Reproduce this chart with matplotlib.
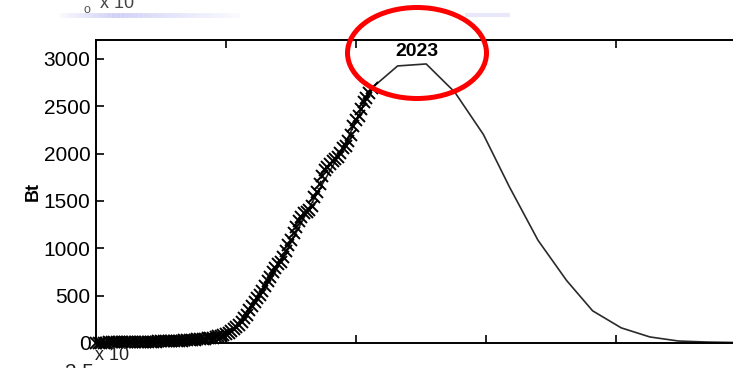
import matplotlib
matplotlib.use("Agg")
import matplotlib.pyplot as plt
from matplotlib.patches import Ellipse
from matplotlib.collections import LineCollection
import numpy as np

plt.rcParams['font.family'] = ['Liberation Sans Narrow', 'Liberation Sans', 'DejaVu Sans']

# Observed production, 1900-2006
obs_years = list(range(1900, 2007))
obs_values = [
    4, 4, 5, 5, 5, 6, 6, 6, 7, 7, 8, 8, 9, 9, 10, 10, 11, 12, 12, 13,
    13, 14, 15, 15, 16, 17, 18, 19, 20, 21, 22, 23, 25, 26, 28, 30, 31, 33, 35, 38,
    40, 43, 46, 50, 54, 58, 63, 70, 78, 86,
    95, 110, 125, 145, 170, 195, 225, 260, 300, 345,
    390, 430, 470, 510, 550, 600, 650, 700, 750, 795,
    830, 860, 910, 970, 1030, 1090, 1160, 1230, 1290, 1330,
    1370, 1380, 1400, 1450, 1540, 1600, 1680, 1760, 1830, 1860,
    1890, 1920, 1940, 1960, 2010, 2060, 2080, 2130, 2200, 2290,
    2350, 2400, 2470, 2540, 2590, 2640, 2690,
]

# Fitted curve
fit_years = [1900, 1909, 1920, 1930, 1941, 1952, 1963, 1973, 1984, 1995, 2006,
             2016, 2027, 2038, 2049, 2059, 2070, 2081, 2091, 2102, 2113, 2124,
             2135, 2146, 2150]
fit_values = [4, 7, 13, 22, 43, 120, 505, 960, 1530, 2060, 2690,
              2926, 2947, 2649, 2202, 1649, 1085, 660, 340, 160, 64, 21,
              10, 5, 4]

peak_year = 2023
peak_label = "2023"
yticks = [0, 500, 1000, 1500, 2000, 2500, 3000]
xticks = [1900, 1950, 2000, 2050, 2100, 2150]

W, H = 733, 368
fig = plt.figure(figsize=(W / 100, H / 100), dpi=100)
ax = fig.add_axes([96 / W, (H - 343) / H, 650 / W, 303 / H])

ax.plot(fit_years, fit_values, color='#2a2a2a', lw=1.2, zorder=2)
ax.plot(obs_years, obs_values, linestyle=':', color='black', lw=1.0,
        marker='x', markersize=8, markeredgewidth=1.4, zorder=3, clip_on=False)

ax.set_xlim(1900, 2150)
ax.set_ylim(0, 3200)
ax.set_yticks(yticks)
ax.set_xticks(xticks)
ax.set_xticklabels([])
ax.tick_params(direction='in', length=6, width=1.2, top=True, right=True,
               labelsize=15, pad=4, colors='black')
for s in ax.spines.values():
    s.set_linewidth(1.4)
ax.set_ylabel('Bt', fontsize=13, fontweight='bold', labelpad=1)

ax.text(peak_year + 0.5, 3080, peak_label, ha='center', va='center',
        fontsize=14, fontweight='bold')

# Red highlight around the peak
ell = Ellipse((417 / W, 1 - 53 / H), 139 / W, 91 / H, transform=fig.transFigure,
              fill=False, edgecolor='#ff0000', lw=3.6, zorder=10)
fig.patches.append(ell)

# Multiplier labels of neighbouring panels
fig.text(95 / W, 1 - 355 / H, 'x 10', fontsize=13, ha='left', va='center',
         color='#222222')
fig.text(65 / W, 1 - 372 / H, '2.5', fontsize=15, ha='left', va='center',
         color='#222222')
fig.text(100 / W, 1 - 3 / H, 'x 10', fontsize=13, ha='left', va='center',
         color='#444444')
fig.text(84 / W, 1 - 10 / H, 'o', fontsize=9, ha='left', va='center',
         color='#555555')

# Faint decorative rule at the top
xs = np.linspace(60, 240, 40)
segs = [[(xs[i] / W, 1 - 14.5 / H), (xs[i + 1] / W, 1 - 14.5 / H)] for i in range(len(xs) - 1)]
alphas = np.concatenate([np.linspace(0.1, 0.6, 12), np.linspace(0.6, 0.05, len(xs) - 13)])
cols = [(0.7, 0.7, 0.95, a) for a in alphas]
fig.add_artist(LineCollection(segs, colors=cols, linewidths=3.5, transform=fig.transFigure))
fig.add_artist(LineCollection([[(465 / W, 1 - 14.5 / H), (510 / W, 1 - 14.5 / H)]],
                              colors=[(0.75, 0.75, 0.95, 0.35)], linewidths=3,
                              transform=fig.transFigure))

fig.savefig('out.png', dpi=100)
